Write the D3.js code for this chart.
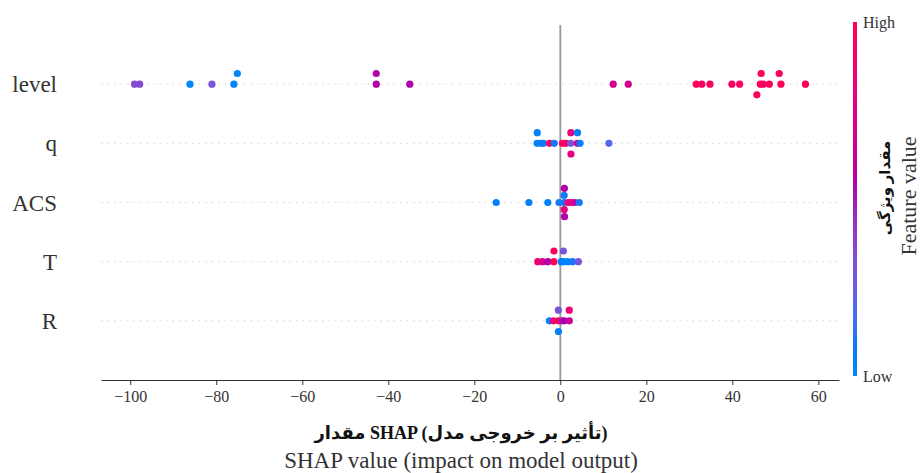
<!DOCTYPE html>
<html>
<head>
<meta charset="utf-8">
<script src="https://cdnjs.cloudflare.com/ajax/libs/d3/7.8.5/d3.min.js"></script>
<style>
  html, body { margin: 0; padding: 0; background: #fff; }
  svg { display: block; }
</style>
</head>
<body>
<svg id="chart" width="920" height="473"></svg>
<script>
// Features, top to bottom
const features = ["level", "q", "ACS", "T", "R"];

// SHAP values per feature (one entry per sample)
const shapLevel = [-99.0, -97.8, -86.1, -81.0, -75.9, -75.1, -42.8, -42.8, -35.0,
  12.3, 15.8, 31.6, 32.9, 34.8, 39.9, 41.7, 46.5, 46.7, 45.7, 47.2, 48.6, 51.3, 50.9, 57.0];
const shapQ = [-5.40, -5.36, -4.5, -3.9, -2.5, -1.4, 0.5, 1.3, 2.42, 2.45, 2.48,
  3.95, 4.0, 4.6, 11.3];
const shapACS = [-14.9, -7.3, -2.9, -0.3, 0.86, 0.89, 0.92, 0.95, 0.98, 1.8, 2.6, 3.4, 4.4];
const shapT = [-5.25, -4.1, -2.9, -1.50, -1.48, 0.2, 0.70, 0.72, 1.7, 2.85, 4.2];
const shapR = [-2.55, -1.6, -0.46, -0.45, -0.44, 0.35, 0.9, 2.10, 2.08];

// Normalised feature values (0 = low, 1 = high) for colouring
const fvLevel = [0.35, 0.35, 0.02, 0.3, 0.02, 0.02, 0.55, 0.55, 0.55,
  0.7, 0.7, 0.95, 0.95, 0.95, 0.95, 0.95, 0.97, 0.97, 0.97, 0.95, 0.97, 0.97, 0.95, 0.97];
const fvQ = [0.05, 0.05, 0.05, 0.1, 0.95, 0.1, 0.95, 0.9, 0.3, 0.8, 0.8, 0.7, 0.05, 0.05, 0.2];
const fvACS = [0.05, 0.05, 0.05, 0.1, 0.1, 0.1, 0.8, 0.55, 0.55, 0.85, 0.8, 0.6, 0.1];
const fvT = [0.9, 0.7, 0.55, 1.0, 0.95, 0.05, 0.05, 0.3, 0.05, 0.1, 0.3];
const fvR = [0.05, 0.85, 1.0, 0.3, 0.05, 0.5, 0.55, 0.65, 0.85];

const xTicks = [-100, -80, -60, -40, -20, 0, 20, 40, 60];

// Axis titles
const xTitleFa = "مقدار SHAP (تأثیر بر خروجی مدل)";
const xTitleEn = "SHAP value (impact on model output)";
const cbTitleFa = "مقدار ویژگی";
const cbTitleEn = "Feature value";

const shapRows = [shapLevel, shapQ, shapACS, shapT, shapR];
const fvRows = [fvLevel, fvQ, fvACS, fvT, fvR];

// Red-blue colour map interpolated in LCh space (blue -> purple -> red)
function redBlue(t) {
  const l = t < 0.5 ? 54 + (40 - 54) * (t / 0.5) : 40 + (54 - 40) * ((t - 0.5) / 0.5);
  const c = 70 + 20 * t;
  const h = 266.93 + (380.32 - 266.93) * t;
  return d3.hcl(h % 360, c, l).formatHex();
}

// Beeswarm offsets: bin the values and stack points alternately up/down
function swarm(vals) {
  const mn = d3.min(vals), mx = d3.max(vals);
  const quant = vals.map(v => Math.round(100 * (v - mn) / (mx - mn + 1e-8)));
  const order = d3.range(vals.length).sort((a, b) => quant[a] - quant[b]);
  const ys = new Array(vals.length).fill(0);
  let layer = 0, last = -1;
  for (const i of order) {
    if (quant[i] !== last) layer = 0;
    ys[i] = Math.ceil(layer / 2) * ((layer % 2) * 2 - 1);
    layer++;
    last = quant[i];
  }
  const k = 0.9 * (0.4 / d3.max(ys, d => d + 1));
  return ys.map(d => d * k);
}

const svg = d3.select("#chart");
const serif = "'Liberation Serif', 'Times New Roman', serif";
const faFont = "'Liberation Serif', 'DejaVu Sans', serif";
const textCol = "#333";

const allVals = shapRows.flat();
const vMin = d3.min(allVals), vMax = d3.max(allVals), span = vMax - vMin;
const x = d3.scaleLinear().domain([vMin - 0.05 * span, vMax + 0.05 * span]).range([101, 839]);
const y = d3.scaleLinear().domain([-1, features.length]).range([380, 25]);
const rowPos = i => features.length - 1 - i;

// Dotted guide lines per feature
svg.append("g").selectAll("line").data(features).join("line")
  .attr("x1", x.range()[0]).attr("x2", x.range()[1])
  .attr("y1", (d, i) => y(rowPos(i))).attr("y2", (d, i) => y(rowPos(i)))
  .attr("stroke", "#cccccc").attr("stroke-width", 0.8)
  .attr("stroke-dasharray", "1.5,5");

// Zero line
svg.append("line")
  .attr("x1", x(0)).attr("x2", x(0))
  .attr("y1", y(features.length)).attr("y2", y(-1))
  .attr("stroke", "#999999").attr("stroke-width", 1.8);

// Points
features.forEach((f, i) => {
  const vals = shapRows[i], fv = fvRows[i];
  const off = swarm(vals);
  svg.append("g").selectAll("circle").data(vals).join("circle")
    .attr("cx", d => x(d))
    .attr("cy", (d, j) => y(rowPos(i) + off[j]))
    .attr("r", 3.6)
    .attr("fill", (d, j) => redBlue(fv[j]));
});

// X axis
const xAxis = svg.append("g")
  .attr("transform", `translate(0,${y(-1)})`)
  .call(d3.axisBottom(x).tickValues(xTicks).tickSize(5).tickSizeOuter(0)
    .tickFormat(d => d < 0 ? "\u2212" + Math.abs(d) : String(d)));
xAxis.select(".domain").attr("stroke", "#333").attr("stroke-width", 1.2);
xAxis.selectAll(".tick line").attr("stroke", "#333").attr("stroke-width", 1);
xAxis.selectAll(".tick text")
  .attr("font-family", serif).attr("font-size", 16).attr("fill", textCol).attr("dy", "0.85em");

// Feature names
svg.append("g").selectAll("text").data(features).join("text")
  .attr("x", 57).attr("y", (d, i) => y(rowPos(i)))
  .attr("dy", "0.35em")
  .attr("text-anchor", "end")
  .attr("font-family", serif).attr("font-size", 23).attr("fill", textCol)
  .text(d => d);

// X axis titles (Persian line above English line)
svg.append("text")
  .attr("x", 461).attr("y", 439)
  .attr("text-anchor", "middle")
  .attr("font-family", faFont).attr("font-weight", "bold")
  .attr("font-size", 18).attr("fill", "#111")
  .text(xTitleFa);
svg.append("text")
  .attr("x", 461).attr("y", 468)
  .attr("text-anchor", "middle")
  .attr("font-family", serif).attr("font-size", 23).attr("fill", textCol)
  .text(xTitleEn);

// Colour bar
const cbTop = 22, cbBottom = 376, cbX = 853, cbW = 4;
const grad = svg.append("defs").append("linearGradient")
  .attr("id", "cbGrad").attr("x1", 0).attr("y1", 1).attr("x2", 0).attr("y2", 0);
d3.range(0, 1.0001, 0.05).forEach(t => {
  grad.append("stop").attr("offset", t).attr("stop-color", redBlue(t));
});
const cb = d3.scaleLinear().domain([0, 1]).range([cbBottom, cbTop]);
svg.append("rect")
  .attr("x", cbX).attr("y", cb(1)).attr("width", cbW).attr("height", cb(0) - cb(1))
  .attr("fill", "url(#cbGrad)");
svg.append("g").selectAll("text").data([[1, "High"], [0, "Low"]]).join("text")
  .attr("x", cbX + cbW + 6).attr("y", d => cb(d[0]))
  .attr("dy", "0.35em")
  .attr("font-family", serif).attr("font-size", 16).attr("fill", textCol)
  .text(d => d[1]);

svg.append("text")
  .attr("transform", "translate(885,188) rotate(-90)")
  .attr("text-anchor", "middle").attr("dy", "0.35em")
  .attr("font-family", faFont)
  .attr("font-weight", "bold").attr("font-size", 15).attr("fill", "#111")
  .text(cbTitleFa);
svg.append("text")
  .attr("transform", "translate(908,196) rotate(-90)")
  .attr("text-anchor", "middle").attr("dy", "0.35em")
  .attr("font-family", serif).attr("font-size", 22).attr("fill", textCol)
  .text(cbTitleEn);
</script>
</body>
</html>
